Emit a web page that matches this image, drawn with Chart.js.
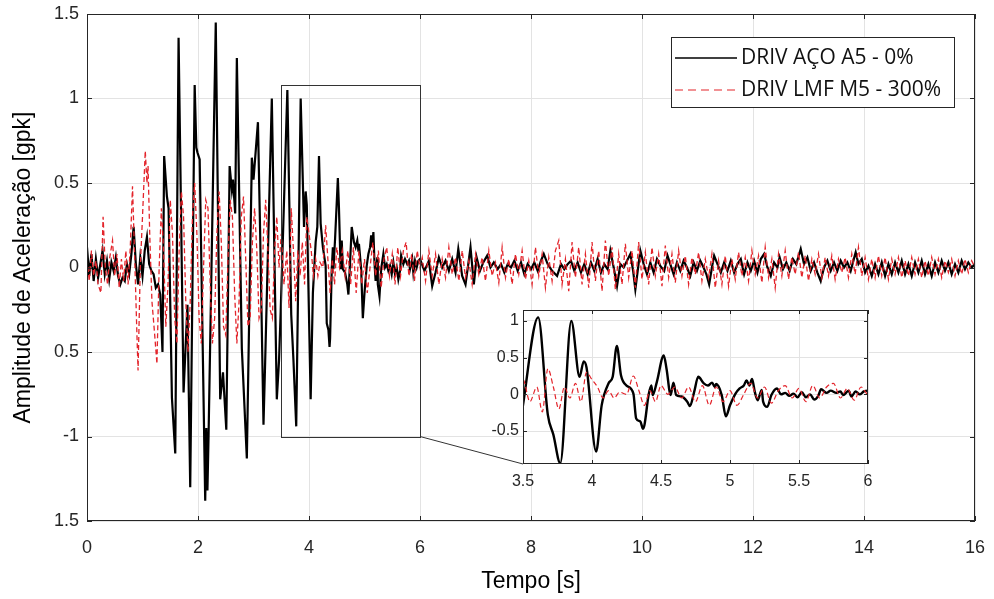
<!DOCTYPE html>
<html>
<head>
<meta charset="utf-8">
<script src="https://cdn.jsdelivr.net/npm/chart.js@4.4.0/dist/chart.umd.min.js"></script>
<style>
  body { margin: 0; background: #fff; }
  #wrap { position: relative; width: 994px; height: 599px; }
  #main { position: absolute; left: 0; top: 0; }
  #inset { position: absolute; left: 470px; top: 300px; }
</style>
</head>
<body>
<div id="wrap">
  <canvas id="main" width="994" height="599"></canvas>
  <canvas id="inset" width="410" height="200"></canvas>
</div>
<script>
// series labels
const seriesNames = ['DRIV AÇO A5 - 0%', 'DRIV LMF M5 - 300%'];

// axis ticks
const mainTimeTicks = [0, 2, 4, 6, 8, 10, 12, 14, 16];
const mainAmpTicks = [-1.5, -1, -0.5, 0, 0.5, 1, 1.5];
const mainAmpLabels = ['1.5', '-1', '0.5', '0', '0.5', '1', '1.5'];   // as printed on the original
const insetTimeTicks = [3.5, 4, 4.5, 5, 5.5, 6];
const insetAmpTicks = [-0.5, 0, 0.5, 1];
const insetAmpRange = [-0.95, 1.15];

// zoom window shown in the inset
const zoomTime = [3.5, 6];
const zoomAmp = [-1.0, 1.08];

// black series [t, a]
const blackOnset = [[0.00,0.12],[0.04,-0.05],[0.08,0.08],[0.12,-0.08],[0.16,0.05],[0.20,-0.06],[0.24,0.02],[0.28,0.10],
  [0.32,-0.04],[0.36,0.04],[0.40,-0.07],[0.44,0.03],[0.48,-0.02],[0.52,0.06],[0.56,-0.05],[0.60,-0.10],[0.64,-0.06],
  [0.68,-0.08],[0.72,0.02],[0.76,-0.04],[0.80,0.08],[0.84,0.24],[0.88,0.02],[0.92,-0.10],[0.96,0.06],[1.00,-0.05],
  [1.04,0.10],[1.08,0.18],[1.12,0.02],[1.16,-0.02],[1.20,-0.04],[1.24,-0.12],[1.28,-0.10]];
const blackStrong = [[1.32,-0.16],[1.36,-0.50],[1.39,0.66],[1.44,0.42],[1.47,0.35],[1.53,-0.77],[1.59,-1.10],[1.65,1.36],
  [1.74,-0.74],[1.81,-0.22],[1.86,-1.30],[1.94,1.08],[1.97,0.71],[1.99,0.68],[2.03,0.64],[2.13,-1.38],[2.15,-0.95],
  [2.17,-1.32],[2.19,-1.00],[2.32,1.45],[2.40,-0.78],[2.45,-0.62],[2.51,-0.96],[2.57,0.60],[2.61,0.46],[2.63,0.52],
  [2.67,0.32],[2.70,1.24],[2.79,-0.48],[2.88,-1.13],[2.97,0.65],[3.00,0.52],[3.08,0.86],[3.12,0.20],[3.18,-0.93],
  [3.21,-0.56],[3.33,1.00],[3.42,-0.78],[3.46,-0.55]];
const blackDecay = [[3.49,-0.26],[3.61,1.05],[3.68,-0.28],[3.72,-0.55],[3.77,-0.94],[3.85,1.00],[3.91,0.24],[3.94,0.45],
  [3.96,0.37],[4.03,-0.78],[4.07,-0.15],[4.12,0.15],[4.15,0.24],[4.18,0.66],[4.21,0.26],[4.25,0.12],[4.30,0.01],
  [4.32,-0.33],[4.35,-0.37],[4.37,-0.47],[4.38,-0.42],[4.41,-0.01],[4.43,0.12],[4.44,-0.01],[4.47,0.17],[4.52,0.53],
  [4.54,0.35],[4.57,-0.01],[4.59,0.16],[4.61,-0.01],[4.65,-0.03],[4.69,-0.10],[4.71,-0.16],[4.74,0.03],[4.77,0.24],
  [4.81,0.15],[4.84,0.12],[4.87,0.16],[4.89,0.10],[4.90,0.14],[4.94,-0.01],[4.97,-0.30],[5.00,-0.15],[5.04,0.01],
  [5.07,0.08],[5.10,0.12],[5.12,0.19],[5.14,0.12],[5.16,0.21],[5.18,0.03],[5.20,-0.08],[5.23,0.06],[5.24,-0.10],
  [5.27,-0.17],[5.30,-0.01],[5.34,0.08],[5.37,0.00],[5.40,0.02],[5.43,-0.02],[5.46,0.01],[5.49,-0.04],[5.52,0.03],
  [5.55,-0.04],[5.58,0.00],[5.61,-0.07],[5.64,-0.02],[5.66,0.07],[5.70,0.02],[5.73,0.05],[5.77,0.02],[5.80,0.04],
  [5.82,-0.01],[5.86,0.05],[5.88,-0.03],[5.91,0.04],[5.94,0.00],[5.97,0.04],[6.00,0.05]];
const blackTail = [[6.08,-0.02],[6.16,0.04],[6.22,-0.11],[6.28,-0.03],[6.34,0.06],[6.40,0.00],[6.46,0.04],[6.52,-0.02],
  [6.58,0.05],[6.64,-0.03],[6.69,0.11],[6.76,-0.05],[6.82,-0.10],[6.87,0.02],[6.91,0.12],[6.97,-0.10],[7.02,0.06],
  [7.08,-0.02],[7.14,0.03],[7.21,0.07],[7.27,0.00],[7.33,0.03],[7.40,-0.01],[7.46,0.02],[7.52,-0.03],[7.58,0.02],
  [7.64,0.00],[7.70,0.04],[7.76,-0.02],[7.82,0.03],[7.88,-0.04],[7.94,0.02],[8.00,-0.01],[8.06,0.03],[8.12,-0.02],
  [8.18,0.04],[8.23,0.08],[8.30,0.02],[8.38,-0.02],[8.47,-0.05],[8.54,0.02],[8.60,-0.01],[8.66,0.02],[8.72,0.04],
  [8.78,-0.02],[8.84,0.03],[8.90,-0.03],[8.96,0.02],[9.02,-0.04],[9.08,0.03],[9.14,-0.02],[9.20,0.05],[9.26,-0.03],
  [9.32,0.02],[9.38,-0.01],[9.43,0.10],[9.49,0.00],[9.55,-0.11],[9.61,0.02],[9.67,0.00],[9.73,0.04],[9.79,0.08],
  [9.84,-0.02],[9.88,-0.13],[9.93,0.00],[9.97,0.10],[10.03,0.02],[10.09,-0.04],[10.15,0.03],[10.21,-0.03],[10.27,0.05],
  [10.33,0.01],[10.40,-0.02],[10.46,0.07],[10.52,0.01],[10.57,-0.04],[10.63,0.03],[10.69,-0.02],[10.75,0.04],[10.81,0.00],
  [10.87,-0.05],[10.93,0.03],[10.99,-0.02],[11.05,0.04],[11.11,0.00],[11.16,-0.04],[11.21,-0.10],[11.26,0.00],[11.30,0.07],
  [11.36,0.02],[11.42,-0.03],[11.48,0.03],[11.54,-0.02],[11.60,0.04],[11.66,-0.03],[11.72,0.02],[11.78,0.05],[11.84,-0.04],
  [11.90,0.03],[11.96,-0.02],[12.02,0.04],[12.08,-0.03],[12.14,0.05],[12.20,0.08],[12.26,0.00],[12.32,-0.05],[12.38,0.03],
  [12.44,0.00],[12.48,0.06],[12.54,-0.01],[12.60,0.03],[12.66,-0.02],[12.72,0.05],[12.78,0.02],[12.86,0.11],[12.92,0.02],
  [12.98,0.06],[13.04,-0.02],[13.10,0.03],[13.16,-0.03],[13.22,-0.08],[13.28,0.00],[13.34,0.04],[13.40,-0.02],[13.46,0.03],
  [13.52,-0.02],[13.58,0.04],[13.64,0.00],[13.70,0.03],[13.76,-0.02],[13.85,0.09],[13.90,0.02],[13.96,0.05],[14.02,-0.03],
  [14.08,0.01],[14.14,-0.05],[14.20,0.02],[14.26,-0.04],[14.32,0.03],[14.38,-0.05],[14.44,0.02],[14.50,-0.04],[14.56,0.03],
  [14.62,-0.03],[14.68,0.04],[14.74,-0.04],[14.80,0.02],[14.86,-0.05],[14.92,0.03],[14.98,-0.03],[15.04,0.04],[15.10,-0.04],
  [15.16,0.02],[15.22,-0.05],[15.28,0.03],[15.34,-0.03],[15.40,0.04],[15.46,-0.02],[15.52,0.03],[15.58,-0.04],[15.64,0.02],
  [15.70,-0.03],[15.76,0.04],[15.82,-0.01],[15.88,0.03],[15.94,0.00],[16.00,0.02]];

// red dashed series [t, a]
const redOnset = [[0.00,0.05],[0.04,-0.08],[0.08,0.10],[0.12,-0.05],[0.16,0.04],[0.20,-0.10],[0.25,-0.15],[0.29,0.30],
  [0.33,0.00],[0.37,-0.10],[0.41,0.06],[0.46,0.16],[0.50,-0.05],[0.54,0.08],[0.58,-0.12],[0.62,0.05],[0.66,-0.08],
  [0.70,0.10],[0.74,-0.10],[0.78,0.12],[0.82,0.48],[0.86,0.05],[0.90,-0.40],[0.92,-0.61],[0.96,0.00],[1.00,0.30],
  [1.05,0.69],[1.08,0.50],[1.10,0.60],[1.13,0.20],[1.17,-0.20],[1.22,-0.40],[1.26,-0.57],[1.30,0.00]];
const redStrong = [[1.34,0.35],[1.38,0.10],[1.42,-0.35],[1.46,-0.10],[1.50,0.40],[1.54,0.20],[1.58,-0.30],[1.62,-0.45],
  [1.66,0.10],[1.70,0.45],[1.74,0.30],[1.78,-0.20],[1.82,-0.50],[1.86,-0.20],[1.90,0.30],[1.94,0.50],[1.98,0.20],
  [2.02,-0.30],[2.06,-0.45],[2.10,0.00],[2.14,0.40],[2.18,0.35],[2.22,-0.10],[2.26,-0.45],[2.30,-0.30],[2.34,0.20],
  [2.38,0.45],[2.42,0.15],[2.46,-0.35],[2.50,-0.40],[2.54,0.05],[2.58,0.40],[2.62,0.30],[2.66,-0.15],[2.70,-0.45],
  [2.74,-0.20],[2.78,0.30],[2.82,0.42],[2.86,0.05],[2.90,-0.35],[2.94,-0.30],[2.98,0.15],[3.02,0.35],[3.06,0.10],
  [3.10,-0.30],[3.14,-0.25],[3.18,0.20],[3.22,0.40],[3.26,0.10],[3.30,-0.25],[3.34,-0.30],[3.38,0.10],[3.42,0.30],
  [3.46,0.00]];
const redDecay = [[3.50,0.20],[3.55,-0.10],[3.60,0.10],[3.64,-0.24],[3.68,0.35],[3.72,0.10],[3.76,-0.20],[3.80,0.10],
  [3.84,-0.05],[3.88,0.15],[3.92,-0.10],[3.96,0.30],[4.00,0.20],[4.04,0.10],[4.08,-0.05],[4.12,0.05],[4.16,-0.05],
  [4.20,0.03],[4.25,0.00],[4.30,0.25],[4.34,0.05],[4.38,-0.15],[4.42,0.05],[4.46,-0.10],[4.50,0.12],[4.55,0.00],
  [4.60,0.10],[4.65,-0.05],[4.70,0.10],[4.75,-0.10],[4.80,0.12],[4.85,-0.15],[4.90,0.10],[4.95,-0.10],[5.00,0.05],
  [5.05,-0.15],[5.10,0.00],[5.15,0.15],[5.20,-0.05],[5.25,0.10],[5.30,-0.12],[5.35,0.05],[5.40,0.12],[5.45,-0.05],
  [5.50,0.08],[5.55,-0.10],[5.60,0.12],[5.65,-0.05],[5.70,0.10],[5.75,0.15],[5.80,-0.05],[5.85,0.08],[5.90,-0.08],
  [5.95,0.10],[6.00,0.00]];
const redTail = [[6.04,0.06],[6.10,-0.08],[6.16,0.10],[6.22,-0.05],[6.28,0.08],[6.34,-0.10],[6.40,0.05],[6.46,-0.06],
  [6.52,0.12],[6.58,-0.04],[6.64,0.06],[6.70,-0.08],[6.76,0.10],[6.82,-0.06],[6.88,0.04],[6.94,-0.10],[7.00,0.08],
  [7.06,-0.04],[7.12,0.06],[7.18,-0.08],[7.24,0.10],[7.30,-0.05],[7.36,0.03],[7.42,-0.09],[7.48,0.12],[7.54,-0.06],
  [7.60,0.05],[7.66,-0.10],[7.72,0.08],[7.78,-0.04],[7.84,0.10],[7.90,-0.07],[7.96,0.04],[8.02,-0.10],[8.08,0.12],
  [8.14,-0.05],[8.20,0.08],[8.26,-0.12],[8.32,0.06],[8.38,-0.08],[8.44,0.10],[8.50,0.16],[8.56,-0.10],[8.62,0.05],
  [8.68,-0.14],[8.74,0.15],[8.80,-0.06],[8.86,0.12],[8.92,-0.10],[8.98,0.08],[9.04,-0.12],[9.10,0.15],[9.16,-0.08],
  [9.22,0.10],[9.28,-0.14],[9.34,0.16],[9.40,-0.05],[9.46,0.12],[9.52,-0.13],[9.58,0.08],[9.64,-0.10],[9.70,0.14],
  [9.76,-0.06],[9.82,0.10],[9.88,-0.12],[9.94,0.15],[10.00,-0.07],[10.06,0.09],[10.12,-0.10],[10.18,0.12],[10.24,-0.05],
  [10.30,0.08],[10.36,-0.11],[10.42,0.13],[10.48,-0.06],[10.54,0.08],[10.60,-0.09],[10.66,0.10],[10.72,-0.05],[10.78,0.07],
  [10.84,-0.10],[10.90,0.06],[10.96,-0.04],[11.02,0.09],[11.08,-0.08],[11.14,0.05],[11.20,-0.06],[11.26,0.08],[11.32,-0.12],
  [11.38,0.04],[11.44,-0.10],[11.50,0.07],[11.56,-0.11],[11.62,0.05],[11.68,-0.07],[11.74,0.09],[11.80,-0.05],[11.86,0.06],
  [11.92,-0.08],[11.98,0.10],[12.04,-0.04],[12.10,0.07],[12.16,-0.09],[12.22,0.12],[12.28,-0.06],[12.34,0.05],[12.40,-0.12],
  [12.46,0.08],[12.52,-0.05],[12.58,0.10],[12.64,-0.07],[12.70,0.06],[12.76,-0.04],[12.82,0.09],[12.88,-0.06],[12.94,0.07],
  [13.00,-0.08],[13.06,0.05],[13.12,-0.04],[13.18,0.08],[13.24,-0.06],[13.30,0.06],[13.36,-0.05],[13.42,0.07],[13.48,-0.07],
  [13.54,0.05],[13.60,-0.03],[13.66,0.06],[13.72,-0.06],[13.78,0.08],[13.84,-0.04],[13.90,0.12],[13.96,-0.05],[14.02,0.06],
  [14.08,-0.07],[14.14,0.05],[14.20,-0.06],[14.26,0.07],[14.32,-0.05],[14.38,0.06],[14.44,-0.07],[14.50,0.05],[14.56,-0.04],
  [14.62,0.06],[14.68,-0.06],[14.74,0.04],[14.80,-0.05],[14.86,0.06],[14.92,-0.04],[14.98,0.05],[15.04,-0.06],[15.10,0.04],
  [15.16,-0.05],[15.22,0.06],[15.28,-0.04],[15.34,0.05],[15.40,-0.06],[15.46,0.04],[15.52,-0.03],[15.58,0.05],[15.64,-0.05],
  [15.70,0.04],[15.76,-0.04],[15.82,0.05],[15.88,-0.03],[15.94,0.04],[16.00,0.00]];

const toXY = arr => arr.map(p => ({ x: p[0], y: p[1] }));
const blackData = toXY([...blackOnset, ...blackStrong, ...blackDecay, ...blackTail]);
const redData = toXY([...redOnset, ...redStrong, ...redDecay, ...redTail]);

const TICK_FONT = "'Liberation Sans', Arial, sans-serif";
const LEGEND_FONT = "'Open Sans', sans-serif";
const AXIS = '#262626';
const RED = '#e3242b';

function makeDatasets(bw, rw) {
  return [
    { label: seriesNames[0], data: blackData, borderColor: '#000', borderWidth: bw, order: 2 },
    { label: seriesNames[1], data: redData, borderColor: RED, borderWidth: rw, borderDash: [5, 3], order: 1 }
  ];
}

// fixed axis boxes, no extra label overflow padding
const fixHeight = h => s => { s.height = h; s.paddingLeft = 0; s.paddingRight = 0; };
const fixWidth = w => s => { s.width = w; s.paddingTop = 0; s.paddingBottom = 0; };

// frame + inward tick marks like the original plot
function drawFrame(chart, tickLen) {
  const { ctx, chartArea: a, scales } = chart;
  ctx.save();
  ctx.strokeStyle = AXIS;
  ctx.lineWidth = 1;
  ctx.strokeRect(a.left + 0.5, a.top + 0.5, a.right - a.left - 1, a.bottom - a.top - 1);
  ctx.beginPath();
  scales.x.ticks.forEach(t => {
    const px = Math.round(scales.x.getPixelForValue(t.value)) + 0.5;
    ctx.moveTo(px, a.bottom); ctx.lineTo(px, a.bottom - tickLen);
    ctx.moveTo(px, a.top); ctx.lineTo(px, a.top + tickLen);
  });
  scales.y.ticks.forEach(t => {
    const py = Math.round(scales.y.getPixelForValue(t.value)) + 0.5;
    ctx.moveTo(a.left, py); ctx.lineTo(a.left + tickLen, py);
    ctx.moveTo(a.right, py); ctx.lineTo(a.right - tickLen, py);
  });
  ctx.stroke();
  ctx.restore();
}

// ---------- inset ----------
const insetCanvas = document.getElementById('inset');
const insetChart = new Chart(insetCanvas, {
  type: 'line',
  data: { datasets: makeDatasets(2.4, 1.2) },
  options: {
    responsive: false, animation: false, devicePixelRatio: 1,
    layout: { autoPadding: false, padding: { top: 10, right: 12, left: 0, bottom: 0 } },
    plugins: { legend: { display: false }, tooltip: { enabled: false } },
    elements: { point: { radius: 0 }, line: { tension: 0, cubicInterpolationMode: 'monotone' } },
    scales: {
      x: {
        type: 'linear', min: insetTimeTicks[0], max: insetTimeTicks[insetTimeTicks.length - 1],
        afterBuildTicks: s => { s.ticks = insetTimeTicks.map(v => ({ value: v })); },
        afterFit: fixHeight(36),
        grid: { color: '#e3e3e3', drawTicks: false }, border: { display: false },
        ticks: { padding: 8, color: AXIS, maxRotation: 0, font: { family: TICK_FONT, size: 16 }, callback: v => String(v) }
      },
      y: {
        type: 'linear', min: insetAmpRange[0], max: insetAmpRange[1],
        afterBuildTicks: s => { s.ticks = insetAmpTicks.map(v => ({ value: v })); },
        afterFit: fixWidth(53),
        grid: { color: '#e3e3e3', drawTicks: false }, border: { display: false },
        ticks: { padding: 4, color: AXIS, font: { family: TICK_FONT, size: 16 }, callback: v => String(v) }
      }
    }
  },
  plugins: [{
    id: 'insetFrame',
    beforeDraw(chart) {
      const { ctx, chartArea: a } = chart;
      ctx.save();
      ctx.fillStyle = '#fff';
      ctx.fillRect(a.left, a.top, a.right - a.left, a.bottom - a.top);
      ctx.restore();
    },
    afterDatasetsDraw(chart) { drawFrame(chart, 4); }
  }]
});

// ---------- main ----------
const mainCanvas = document.getElementById('main');
new Chart(mainCanvas, {
  type: 'line',
  data: { datasets: makeDatasets(2.2, 1.3) },
  options: {
    responsive: false, animation: false, devicePixelRatio: 1,
    layout: { autoPadding: false, padding: { top: 14, right: 19, left: 0, bottom: 0 } },
    plugins: { legend: { display: false }, tooltip: { enabled: false } },
    elements: { point: { radius: 0 }, line: { tension: 0 } },
    scales: {
      x: {
        type: 'linear', min: mainTimeTicks[0], max: mainTimeTicks[mainTimeTicks.length - 1],
        afterBuildTicks: s => { s.ticks = mainTimeTicks.map(v => ({ value: v })); },
        afterFit: fixHeight(78),
        grid: { color: '#e3e3e3', drawTicks: false }, border: { display: false },
        ticks: { padding: 16, color: AXIS, maxRotation: 0, font: { family: TICK_FONT, size: 18 }, callback: v => String(v) },
        title: { display: true, text: 'Tempo [s]', color: '#000', font: { family: TICK_FONT, size: 23 }, padding: { top: 0, bottom: 4 } }
      },
      y: {
        type: 'linear', min: mainAmpTicks[0], max: mainAmpTicks[mainAmpTicks.length - 1],
        afterBuildTicks: s => { s.ticks = mainAmpTicks.map(v => ({ value: v })); },
        afterFit: fixWidth(87),
        grid: { color: '#e3e3e3', drawTicks: false }, border: { display: false },
        ticks: { padding: 8, color: AXIS, font: { family: TICK_FONT, size: 18 }, callback: (v, i) => mainAmpLabels[i] },
        title: { display: true, text: 'Amplitude de Aceleração [gpk]', color: '#000', font: { family: TICK_FONT, size: 23 }, padding: { top: 10, bottom: 0 } }
      }
    }
  },
  plugins: [{
    id: 'mainExtras',
    afterDatasetsDraw(chart) {
      const { ctx, chartArea: a, scales: { x, y } } = chart;
      drawFrame(chart, 5);

      // zoom window and the connector to the inset's lower-left corner
      const zx0 = x.getPixelForValue(zoomTime[0]), zx1 = x.getPixelForValue(zoomTime[1]);
      const zy0 = y.getPixelForValue(zoomAmp[1]), zy1 = y.getPixelForValue(zoomAmp[0]);
      ctx.save();
      ctx.strokeStyle = '#333';
      ctx.lineWidth = 1;
      ctx.strokeRect(Math.round(zx0) + 0.5, Math.round(zy0) + 0.5, Math.round(zx1 - zx0), Math.round(zy1 - zy0));
      const ia = insetChart.chartArea;
      const ix = insetCanvas.offsetLeft - mainCanvas.offsetLeft + ia.left;
      const iy = insetCanvas.offsetTop - mainCanvas.offsetTop + ia.bottom;
      ctx.beginPath();
      ctx.moveTo(zx1, zy1);
      ctx.lineTo(ix, iy);
      ctx.stroke();

      // legend box, top right inside the axes
      const boxW = 283, boxH = 70;
      const bx = a.right - 21 - boxW, by = a.top + 23;
      ctx.fillStyle = '#fff';
      ctx.fillRect(bx, by, boxW, boxH);
      ctx.strokeStyle = AXIS;
      ctx.strokeRect(bx + 0.5, by + 0.5, boxW, boxH);
      ctx.font = '21px ' + LEGEND_FONT;
      ctx.textBaseline = 'middle';
      chart.data.datasets.forEach((ds, i) => {
        const ry = by + 21 + i * 32;
        ctx.save();
        ctx.strokeStyle = ds.borderColor;
        ctx.lineWidth = i === 0 ? 1.6 : 1.2;
        ctx.setLineDash(ds.borderDash ? [8, 5] : []);
        ctx.beginPath();
        ctx.moveTo(bx + 4, ry);
        ctx.lineTo(bx + 66, ry);
        ctx.stroke();
        ctx.restore();
        ctx.fillStyle = '#111';
        ctx.fillText(ds.label, bx + 70, ry);
      });
      ctx.restore();
    }
  }]
});
</script>
</body>
</html>
